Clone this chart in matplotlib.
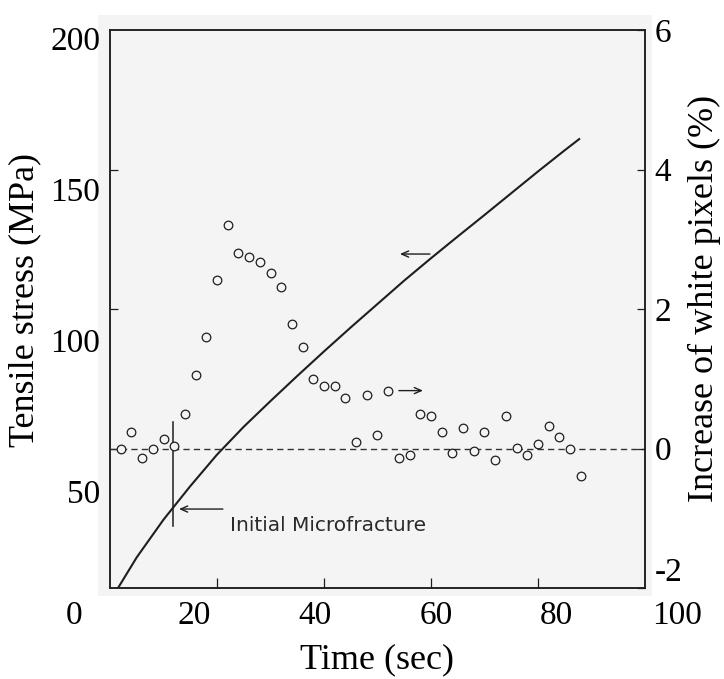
import matplotlib
matplotlib.use("Agg")
import matplotlib.pyplot as plt
from matplotlib import font_manager
from matplotlib.patches import Rectangle

plt.rcParams['font.family'] = ['Liberation Serif', 'DejaVu Serif']
plt.rcParams['axes.unicode_minus'] = False

# stress curve (left axis, MPa)
curve_time = [1.5, 5, 10, 15, 20, 25, 30, 35, 40, 45, 50, 55, 60, 65, 70, 75, 80, 85, 87.7]
curve_stress = [0, 11.0, 24.5, 36.5, 47.8, 57.8, 67.0, 76.0, 84.8, 93.4, 101.8, 110.2,
                118.2, 126.0, 133.7, 141.5, 149.3, 156.9, 160.9]

# increase of white pixels (right axis, %)
pix_time = [2, 4, 6, 8, 10, 12, 14, 16, 18, 20, 22, 24, 26, 28, 30, 32, 34, 36, 38, 40, 42, 44,
            46, 48, 50, 52, 54, 56, 58, 60, 62, 64, 66, 68, 70, 72, 74, 76, 78, 80, 82, 84, 86, 88]
pix_increase = [0.0, 0.23, -0.13, 0.0, 0.14, 0.04, 0.50, 1.05, 1.60, 2.41, 3.21, 2.80, 2.75, 2.67,
                2.52, 2.31, 1.78, 1.46, 1.00, 0.90, 0.89, 0.73, 0.10, 0.76, 0.20, 0.83, -0.13, -0.09,
                0.50, 0.46, 0.24, -0.06, 0.30, -0.04, 0.24, -0.16, 0.46, 0.01, -0.09, 0.06, 0.32, 0.17,
                -0.01, -0.40]

fracture_time = 11.8

x_labels = [0, 20, 40, 60, 80, 100]
left_labels = [50, 100, 150, 200]
right_labels = [-2, 0, 2, 4, 6]

W, H = 724, 679
ink = '#1e1e1e'
paper = '#f4f4f4'

names = {f.name for f in font_manager.fontManager.ttflist}
if 'Liberation Sans Narrow' in names:
    note_font, note_size = 'Liberation Sans Narrow', 19
else:
    note_font, note_size = 'DejaVu Sans', 14.5

fig = plt.figure(figsize=(W / 100, H / 100), dpi=100)
fig.patch.set_facecolor('white')

# greyish scanned paper behind the plot
fig.patches.append(Rectangle((98 / W, 1 - 596 / H), (652 - 98) / W, (596 - 15) / H,
                             transform=fig.transFigure, facecolor=paper,
                             edgecolor='none', zorder=-1))

ax = fig.add_axes([110 / W, 1 - 588 / H, 535 / W, 558 / H])
ax.patch.set_visible(False)
ax.set_xlim(0, 100)
ax.set_ylim(0, 200)
ax.set_xticks([20, 40, 60, 80])
ax.set_yticks([50, 100, 150])
ax.tick_params(axis='x', direction='in', length=7, width=0.9, color=ink,
               labelbottom=False, top=False)
ax.tick_params(axis='y', direction='in', length=6, width=0.9, color=ink,
               labelleft=False, right=False)
for sp in ax.spines.values():
    sp.set_linewidth(1.1)
    sp.set_color(ink)

ax.plot(curve_time, curve_stress, color=ink, lw=1.5, zorder=3)

ax2 = ax.twinx()
ax2.set_ylim(-2, 6)
ax2.set_yticks(right_labels)
ax2.tick_params(axis='y', direction='in', length=6, width=0.9, color=ink,
                labelsize=24, pad=7, labelcolor='black')
# the "-2" sits above the bottom corner in the original
ax2.get_yticklabels()[0].set_verticalalignment('bottom')
for sp in ax2.spines.values():
    sp.set_linewidth(1.1)
    sp.set_color(ink)
ax2.axhline(0, color='#333333', lw=1.0, dashes=(4.5, 3), zorder=1)
ax2.plot(pix_time, pix_increase, 'o', ms=6.2, mfc=paper, mec=ink, mew=0.9, zorder=3)

# arrows pointing to the axis each series belongs to
arrow = dict(arrowstyle='->,head_length=0.5,head_width=0.22',
             lw=1.0, color=ink, shrinkA=0, shrinkB=0)
ax.annotate('', xy=(54.2, 119.7), xytext=(59.8, 119.7), arrowprops=arrow)
ax2.annotate('', xy=(58.5, 0.83), xytext=(54.0, 0.83), arrowprops=arrow)

ax.plot([fracture_time, fracture_time], [22.2, 59.5], color=ink, lw=1.1, zorder=2)
ax.annotate('', xy=(12.9, 28.3), xytext=(21.1, 28.3), arrowprops=arrow)
ax.text(22.4, 20.4, 'Initial Microfracture', family=note_font, fontsize=note_size,
        color='#2a2a2a', va='baseline', ha='left')

# tick numbers sit a bit off the frame in the original figure
axx = fig.add_axes([74 / W, 1 - 601 / H, 603 / W, 0.001])
axx.set_xlim(0, 100)
axx.set_xticks(x_labels)
axx.set_yticks([])
axx.set_frame_on(False)
axx.patch.set_visible(False)
axx.tick_params(axis='x', length=0, pad=0, labelsize=24)

axy = fig.add_axes([100 / W, 1 - 643 / H, 0.001, 605 / H])
axy.set_ylim(0, 200)
axy.set_yticks(left_labels)
axy.set_xticks([])
axy.set_frame_on(False)
axy.patch.set_visible(False)
axy.tick_params(axis='y', length=0, pad=0, labelsize=24)

fig.text(25 / W, 1 - 300 / H, 'Tensile stress (MPa)', rotation=90,
         ha='center', va='center', fontsize=26)
fig.text(704 / W, 1 - 298 / H, 'Increase of white pixels (%)', rotation=90,
         ha='center', va='center', fontsize=26)
fig.text(377 / W, 1 - 660 / H, 'Time (sec)', ha='center', va='center', fontsize=26)

fig.savefig('out.png', dpi=100)
